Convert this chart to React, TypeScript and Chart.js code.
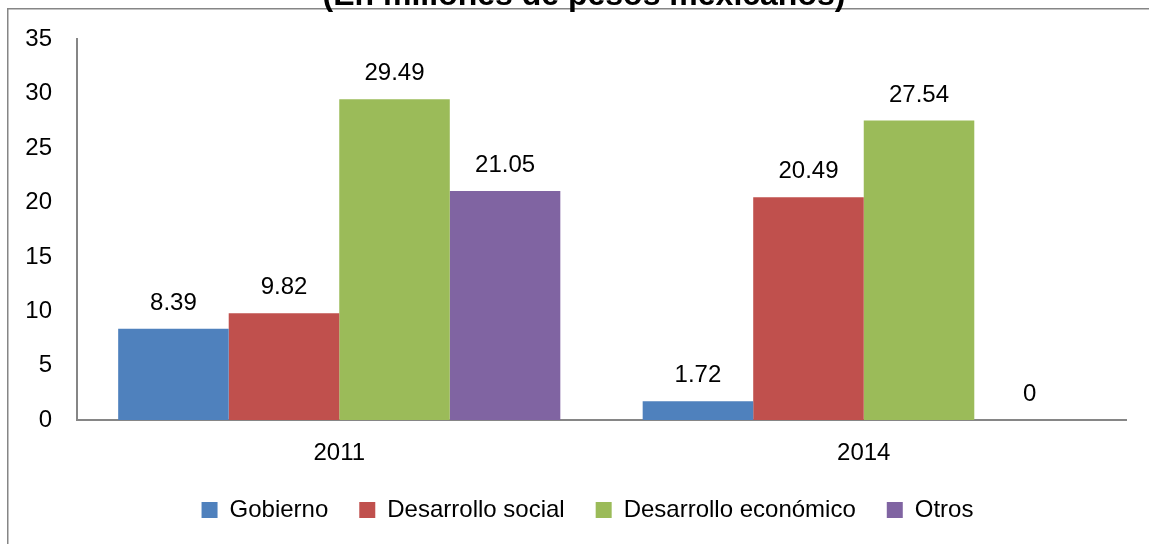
import React, { useEffect, useRef } from "react";
import { Chart, registerables } from "chart.js";

Chart.register(...registerables);

const categories = ["2011", "2014"];
const seriesNames = ["Gobierno", "Desarrollo social", "Desarrollo económico", "Otros"];
const gobierno = [8.39, 1.72];
const desarrolloSocial = [9.82, 20.49];
const desarrolloEconomico = [29.49, 27.54];
const otros = [21.05, 0];
const seriesColors = ["#4F81BD", "#C0504D", "#9BBB59", "#8064A2"];
const titleText = "(En millones de pesos mexicanos)";
const yMin = 0;
const yMax = 35;
const yStep = 5;

const FONT = '"Liberation Sans", Arial, sans-serif';

const framePlugin = {
  id: "frameAndTitle",
  afterLayout(chart: any) {
    if (chart.legend) {
      chart.legend.left -= 14;
      chart.legend.right -= 14;
    }
  },
  beforeDraw(chart: any) {
    const ctx = chart.ctx;
    ctx.save();
    ctx.fillStyle = "#ffffff";
    ctx.fillRect(0, 0, chart.width, chart.height);
    ctx.strokeStyle = "#868686";
    ctx.lineWidth = 1.5;
    ctx.strokeRect(7.75, 8.75, chart.width + 20, chart.height + 20);
    ctx.fillStyle = "#000000";
    ctx.font = "bold 32px " + FONT;
    ctx.textAlign = "center";
    ctx.textBaseline = "alphabetic";
    ctx.fillText(titleText, 584, 5);
    ctx.restore();
  },
};

const valueLabelPlugin = {
  id: "valueLabels",
  afterDatasetsDraw(chart: any) {
    const ctx = chart.ctx;
    ctx.save();
    ctx.fillStyle = "#000000";
    ctx.font = "24px " + FONT;
    ctx.textAlign = "center";
    ctx.textBaseline = "alphabetic";
    chart.data.datasets.forEach((ds: any, i: number) => {
      const meta = chart.getDatasetMeta(i);
      meta.data.forEach((el: any, j: number) => {
        const v = ds.data[j];
        ctx.fillText(String(v), el.x, el.y - 19);
      });
    });
    ctx.restore();
  },
};

export default function App() {
  const ref = useRef<HTMLCanvasElement | null>(null);
  useEffect(() => {
    if (!ref.current) return;
    const values = [gobierno, desarrolloSocial, desarrolloEconomico, otros];
    const chart = new Chart(ref.current, {
      type: "bar",
      data: {
        labels: categories,
        datasets: seriesNames.map((name, i) => ({
          label: name,
          data: values[i],
          backgroundColor: seriesColors[i],
          borderWidth: 0,
          categoryPercentage: 0.843,
          barPercentage: 1,
        })),
      },
      options: {
        animation: false,
        responsive: false,
        maintainAspectRatio: false,
        layout: { padding: { top: 38, left: 0, right: 23, bottom: 12 } },
        plugins: {
          legend: {
            display: true,
            position: "bottom",
            fullSize: false,
            labels: {
              boxWidth: 16,
              boxHeight: 16,
              padding: 31,
              color: "#000000",
              font: { family: FONT, size: 24 },
            },
          },
          title: { display: false },
          tooltip: { enabled: false },
        },
        scales: {
          x: {
            grid: { display: false, drawTicks: false },
            border: { display: true, color: "#868686", width: 2 },
            ticks: { color: "#000000", padding: 19, font: { family: FONT, size: 24 } },
            afterFit(scale: any) {
              scale.height = 47;
            },
          },
          y: {
            min: yMin,
            max: yMax,
            grid: { display: false, drawTicks: false },
            border: { display: true, color: "#868686", width: 2 },
            ticks: { stepSize: yStep, color: "#000000", padding: 25, font: { family: FONT, size: 24 } },
            afterFit(scale: any) {
              scale.width = 77;
            },
          },
        },
      },
      plugins: [framePlugin, valueLabelPlugin],
    });
    return () => chart.destroy();
  }, []);
  return (
    <div style={{ position: "absolute", left: 0, top: 0, width: 1149, height: 544 }}>
      <canvas ref={ref} width={1149} height={544} style={{ width: 1149, height: 544, display: "block" }} />
    </div>
  );
}
